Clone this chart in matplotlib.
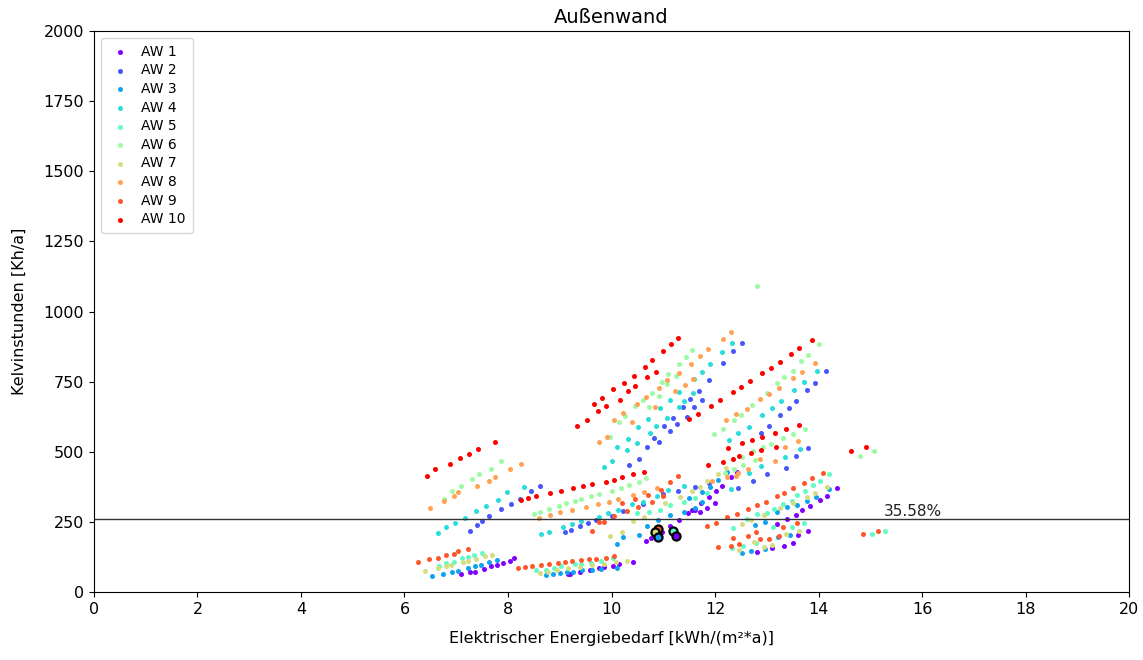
import numpy as np
import matplotlib
matplotlib.use("Agg")
from matplotlib import pyplot as plt

###################
## Data
###################
labels = ["AW 1", "AW 2", "AW 3", "AW 4", "AW 5", "AW 6", "AW 7", "AW 8", "AW 9", "AW 10"]

aw1_x = [7.10, 7.27, 7.37, 7.54, 7.67, 7.78, 7.90, 8.03, 8.12,
         9.16, 9.20, 9.39, 9.58, 9.75, 9.86, 10.02, 10.15, 10.42,
         10.67, 10.76, 10.97, 11.13, 11.30, 11.48, 11.62, 11.71, 11.84, 12.00,
         11.55, 11.72, 11.88, 12.02, 12.14, 12.31, 12.42,
         13.19, 13.40, 13.56, 13.69, 13.84, 14.03, 14.16, 14.35,
         12.82, 13.11, 13.34, 13.50, 13.61, 13.80]
aw1_y = [63, 70, 71, 82, 92, 96, 102, 110, 120,
         64, 64, 70, 78, 84, 88, 93, 99, 108,
         183, 193, 214, 236, 258, 283, 292, 286, 301, 318,
         292, 318, 340, 361, 378, 411, 428,
         242, 262, 276, 292, 307, 328, 343, 370,
         141, 158, 165, 173, 203, 216]

aw2_x = [7.27, 7.40, 7.50, 7.63, 7.86, 8.06, 8.23, 8.44, 8.61,
         9.10, 9.22, 9.39, 9.55, 9.71, 10.00, 10.22, 10.61, 11.00, 11.29, 11.61, 11.88,
         10.34, 10.53, 10.69, 10.83, 10.91, 11.02, 11.13, 11.19, 11.27, 11.38,
         11.45, 11.51, 11.59, 11.69, 11.74, 11.88, 12.15, 12.35, 12.53,
         12.88, 13.05, 13.26, 13.42, 13.56, 13.78, 13.93, 14.14,
         12.45, 12.74, 13.00, 13.37, 13.56, 13.80]
aw2_y = [216, 238, 253, 270, 296, 313, 330, 360, 378,
         213, 222, 235, 247, 257, 271, 290, 314, 348, 361, 375, 387,
         452, 475, 516, 550, 536, 592, 574, 619, 599, 658,
         623, 688, 658, 716, 684, 755, 815, 859, 889,
         566, 592, 630, 656, 681, 720, 746, 789,
         372, 395, 420, 443, 485, 513]

aw3_x = [6.54, 6.74, 6.92, 7.04, 7.23, 7.36, 7.48, 7.63, 7.78,
         8.73, 8.86, 9.00, 9.14, 9.26, 9.43, 9.62, 9.80, 10.10,
         10.10, 10.23, 10.53, 10.69, 10.89, 11.13, 11.40, 11.61, 11.75,
         11.50, 11.74, 11.90, 12.06, 12.23,
         12.77, 12.97, 13.20, 13.40, 13.58, 13.78, 13.96, 14.20,
         12.52, 12.70, 12.97, 13.21, 13.45]
aw3_y = [57, 63, 71, 76, 86, 92, 96, 108, 114,
         61, 63, 67, 71, 73, 77, 80, 82, 86,
         171, 197, 203, 236, 257, 274, 284, 301, 321,
         335, 355, 376, 400, 427,
         239, 251, 285, 302, 310, 324, 340, 367,
         140, 147, 152, 197, 205]

aw4_x = [6.64, 6.80, 6.98, 7.17, 7.38, 7.58, 7.81, 7.99, 8.30,
         8.64, 8.79, 9.06, 9.24, 9.42, 9.76, 9.94, 10.13, 10.39, 10.60, 10.87, 11.10, 11.41,
         9.86, 10.00, 10.11, 10.29, 10.31, 10.49, 10.51, 10.70, 10.74, 10.86, 10.94,
         11.07, 11.13, 11.30, 11.31, 11.41, 11.58, 11.60, 11.75, 11.90, 12.13, 12.33,
         12.27, 12.45, 12.66, 12.91, 13.10, 13.27, 13.53, 13.71, 13.97,
         12.30, 12.66, 12.88, 13.35, 13.64]
aw4_y = [210, 231, 247, 263, 290, 306, 327, 355, 374,
         208, 215, 233, 241, 253, 268, 280, 292, 313, 322, 342, 364, 379,
         447, 468, 517, 506, 545, 530, 588, 616, 566, 592, 656,
         619, 684, 713, 658, 681, 711, 758, 784, 813, 857, 888,
         542, 568, 589, 630, 655, 681, 720, 748, 788,
         366, 425, 450, 482, 511]

aw5_x = [6.67, 6.81, 6.96, 7.12, 7.22, 7.34, 7.49,
         8.54, 8.74, 8.88, 9.02, 9.29, 9.42, 9.60, 9.80, 10.03,
         10.49, 10.72, 10.94, 11.13, 11.40, 11.62, 11.85,
         12.34, 12.61, 12.81, 13.00, 13.14, 13.32, 13.48, 13.59, 13.74, 13.90, 14.03, 14.20,
         12.33, 12.55, 12.80, 13.13, 13.49, 13.71,
         15.03, 15.28]
aw5_y = [94, 102, 107, 120, 125, 131, 138,
         77, 78, 87, 92, 99, 101, 105, 112, 121,
         283, 285, 292, 310, 322, 335, 352,
         230, 259, 278, 283, 297, 314, 325, 346, 360, 383, 396, 420,
         156, 165, 175, 231, 233, 247,
         208, 216]

aw6_x = [6.77, 6.92, 7.10, 7.30, 7.44, 7.67, 7.87,
         8.50, 8.62, 8.79, 8.98, 9.12, 9.30, 9.42, 9.60, 9.76, 10.00, 10.18, 10.33, 10.53, 10.67,
         9.97, 10.15, 10.27, 10.45, 10.61, 10.78, 10.98, 11.10, 11.30, 11.43, 11.55,
         10.73, 10.92, 11.07, 11.25,
         11.99, 12.16, 12.36, 12.51, 12.72, 13.00, 13.20, 13.33, 13.50, 13.66, 13.80, 14.00,
         12.52, 12.74, 12.93, 13.08, 13.32, 13.50, 13.73,
         12.20, 12.37, 12.55, 12.78,
         12.82, 14.80, 15.07]
aw6_y = [333, 360, 377, 403, 421, 440, 466,
         278, 287, 296, 307, 318, 325, 331, 342, 349, 360, 372, 381, 393, 406,
         554, 605, 626, 663, 684, 711, 749, 776, 812, 837, 863,
         660, 700, 741, 770,
         562, 582, 613, 632, 667, 711, 744, 767, 789, 824, 846, 883,
         482, 504, 516, 528, 548, 562, 580,
         425, 438, 452, 470,
         1090, 485, 503]

aw7_x = [6.40, 6.65, 6.80, 6.89, 7.14, 7.23, 7.38, 7.56, 7.70,
         8.62, 8.77, 8.95, 9.15, 9.40, 9.63, 9.85, 10.08, 10.29,
         9.97, 10.20, 10.42, 10.63, 11.03, 11.32, 11.55, 11.71, 11.85, 12.06, 12.21,
         12.52, 12.69, 12.95, 13.25, 13.51, 13.77, 13.93, 14.17,
         12.47, 12.76, 12.95, 13.10, 13.37, 13.63]
aw7_y = [76, 87, 93, 96, 107, 112, 117, 127, 133,
         69, 72, 78, 84, 90, 96, 101, 107, 112,
         200, 215, 252, 266, 318, 340, 359, 375, 397, 422, 443,
         243, 255, 275, 298, 318, 337, 353, 375,
         150, 179, 162, 168, 207, 219]

aw8_x = [6.49, 6.76, 6.96, 7.04, 7.40, 7.63, 7.74, 8.04, 8.26,
         8.60, 8.81, 9.01, 9.23, 9.50, 9.74, 9.96, 10.13, 10.41, 10.62, 10.88,
         9.76, 10.04, 10.23, 10.49, 10.67, 10.92, 11.08, 11.30, 11.53, 11.71, 11.87, 12.15, 12.30,
         9.92, 10.39, 10.85, 11.23, 11.42, 11.57,
         12.21, 12.40, 12.61, 12.86, 13.05, 13.24, 13.51, 13.68, 13.94,
         12.41, 12.64, 12.87, 13.16, 13.35, 13.60,
         11.95, 12.23, 12.44]
aw8_y = [301, 325, 341, 355, 378, 395, 411, 437, 455,
         265, 273, 284, 292, 303, 314, 322, 332, 347, 356, 370,
         534, 613, 637, 670, 694, 728, 756, 781, 814, 841, 866, 902, 927,
         554, 605, 658, 716, 737, 758,
         613, 633, 653, 688, 707, 728, 763, 783, 817,
         414, 440, 473, 466, 516, 537,
         395, 411, 425]

aw9_x = [6.27, 6.47, 6.64, 6.80, 6.96, 7.04, 7.23,
         8.20, 8.33, 8.46, 8.64, 8.79, 8.96, 9.11, 9.23, 9.41, 9.56, 9.70, 9.89, 10.04,
         9.62, 9.75, 9.86, 10.04, 10.29, 10.52, 10.78, 11.00,
         10.20, 10.45, 10.70, 10.95, 11.13, 11.28,
         11.84, 12.01, 12.24, 12.42, 12.64, 12.82, 12.98, 13.19, 13.33, 13.50, 13.71, 13.87, 14.08,
         12.06, 12.30, 12.34, 12.47, 12.63, 12.79, 12.87, 13.04, 13.24, 13.31, 13.59,
         14.85, 15.14]
aw9_y = [106, 116, 122, 131, 137, 145, 153,
         87, 89, 93, 97, 100, 103, 108, 112, 115, 116, 119, 122, 128,
         219, 248, 251, 272, 290, 304, 322, 343,
         318, 333, 347, 362, 391, 412,
         235, 245, 266, 277, 295, 309, 321, 342, 354, 370, 390, 405, 425,
         159, 164, 191, 171, 201, 215, 188, 190, 200, 233, 247,
         208, 219]

aw10_x = [6.44, 6.58, 6.87, 7.07, 7.24, 7.43, 7.75,
          8.26, 8.39, 8.55, 8.81, 9.02, 9.26, 9.44, 9.63, 9.89, 10.05, 10.21, 10.41, 10.62,
          9.34, 9.53, 9.73, 9.90, 10.16, 10.32, 10.46, 10.69, 10.86,
          9.67, 9.81, 10.03, 10.24, 10.43, 10.64, 10.79, 10.99, 11.14, 11.28,
          11.50, 11.68, 11.92, 12.10, 12.34, 12.50, 12.68, 12.91, 13.08, 13.25, 13.47, 13.63, 13.87,
          11.86, 12.16, 12.34, 12.46, 12.70, 12.88, 13.17,
          12.25, 12.53, 12.72, 12.91, 13.16, 13.38, 13.62,
          14.63, 14.91]
aw10_y = [415, 437, 455, 477, 493, 511, 534,
          329, 335, 343, 353, 361, 372, 379, 386, 394, 400, 410, 421, 427,
          593, 615, 645, 663, 684, 716, 736, 767, 784,
          670, 693, 724, 746, 769, 802, 826, 859, 883, 906,
          616, 634, 663, 683, 712, 732, 752, 781, 800, 820, 849, 869, 900,
          454, 465, 475, 485, 497, 506, 518,
          513, 530, 542, 551, 568, 580, 594,
          503, 517]

# highlighted points (black edge)
mark_series = [9, 7, 3, 5, 1]
mark_x = [10.89, 10.84, 10.90, 11.19, 11.24]
mark_y = [226, 213, 197, 217, 201]

threshold = 260
threshold_label = "35.58%"

###################
## Plot
###################
series_x = [aw1_x, aw2_x, aw3_x, aw4_x, aw5_x, aw6_x, aw7_x, aw8_x, aw9_x, aw10_x]
series_y = [aw1_y, aw2_y, aw3_y, aw4_y, aw5_y, aw6_y, aw7_y, aw8_y, aw9_y, aw10_y]
colors = plt.cm.rainbow(np.linspace(0, 1, len(labels)))

fig = plt.figure(figsize=(11.43, 6.6), dpi=100)
ax = fig.add_axes([0.0822, 0.103, 0.9056, 0.850])

for i in range(len(labels)):
  ax.scatter(series_x[i], series_y[i], s=13, color=colors[i], label=labels[i], linewidths=0)

for s, x, y in zip(mark_series, mark_x, mark_y):
  ax.scatter([x], [y], s=34, color=colors[s - 1], edgecolors="black", linewidths=1.6, zorder=3)

ax.axhline(threshold, color="#333333", linewidth=1.0)
ax.text(15.27, threshold + 12, threshold_label, fontsize=11, color="#222222")

ax.set_xlim(0, 20)
ax.set_ylim(0, 2000)
ax.set_xticks(np.arange(0, 21, 2))
ax.set_yticks(np.arange(0, 2001, 250))
ax.tick_params(labelsize=11.5)
ax.set_title("Außenwand", fontsize=14)
ax.set_xlabel("Elektrischer Energiebedarf [kWh/(m²*a)]", fontsize=11.5, labelpad=10)
ax.set_ylabel("Kelvinstunden [Kh/a]", fontsize=11.5, labelpad=12)
ax.legend(loc="upper left", fontsize=10, labelspacing=0.33, handletextpad=0.6,
          borderpad=0.5, handlelength=1.8)

plt.savefig("out.png", dpi=100)
plt.close()
